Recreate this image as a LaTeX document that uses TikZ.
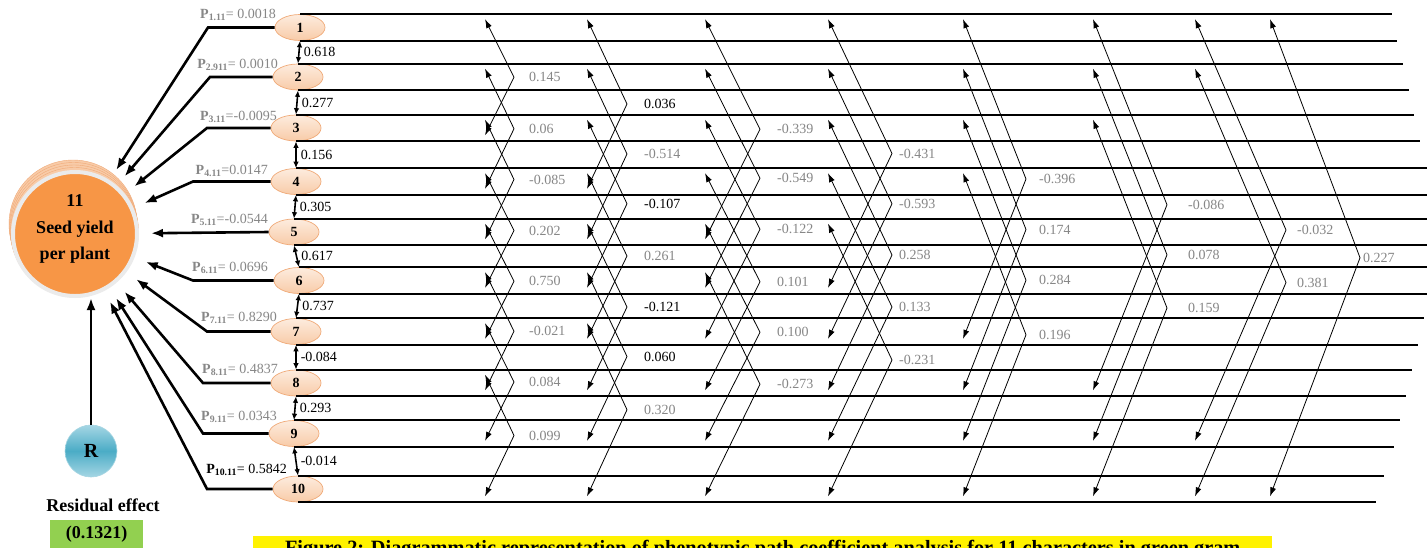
\documentclass[tikz,border=0pt]{standalone}
\usepackage{fontspec}
\setmainfont{Liberation Serif}
\usetikzlibrary{positioning,arrows.meta,calc,shapes.geometric}
\definecolor{yorange}{RGB}{247,150,70}
\definecolor{ypeach}{RGB}{248,203,168}
\definecolor{ppeach}{RGB}{253,236,222}
\definecolor{pedge}{RGB}{240,170,120}
\definecolor{rblue}{RGB}{75,172,198}
\definecolor{rlight}{RGB}{165,214,228}
\definecolor{pgray}{RGB}{135,135,135}
\definecolor{resgreen}{RGB}{146,208,80}

\begin{document}
\begin{tikzpicture}[x=1pt,y=-1pt,>=Latex,
    trait/.style={ellipse,draw=pedge,line width=0.7pt,top color=ppeach,bottom color=ypeach,inner sep=0pt,
      minimum width=50pt,minimum height=26pt,font=\fontsize{14}{16}\selectfont\bfseries},
    band/.style={line width=1.8pt},
    pth/.style={line width=2.6pt,-{Latex[length=12pt,width=9pt]},shorten >=12pt},
    cor/.style={line width=1.6pt,{Latex[length=6.5pt,width=5.5pt]}-{Latex[length=6.5pt,width=5.5pt]}},
    chev/.style={line width=0.8pt,{Latex[length=9pt,width=6pt]}-{Latex[length=9pt,width=6pt]}},
    num/.style={font=\fontsize{14}{16}\selectfont,inner sep=1pt},
    plab/.style={font=\fontsize{14}{16}\selectfont,text=pgray,inner sep=0pt,anchor=east},
    big/.style={font=\fontsize{18}{26.5}\selectfont\bfseries,align=center}]
  \useasboundingbox (0,0) rectangle (1427,547);
  \clip (0,0) rectangle (1427,547);
  \fill[white] (0,0) rectangle (1427,547);

  \node[trait] (t1) at (300,27.5) {1};
  \node[trait] (t2) at (298,77) {2};
  \node[trait] (t3) at (296,128) {3};
  \node[trait] (t4) at (296,181.5) {4};
  \node[trait] (t5) at (294,232) {5};
  \node[trait] (t6) at (299,280.5) {6};
  \node[trait] (t7) at (296,331.5) {7};
  \node[trait] (t8) at (296,383) {8};
  \node[trait] (t9) at (294,433.5) {9};
  \node[trait] (t10) at (298,489) {10};

  \foreach \s in {4,3,2,1}
    \draw[pedge,fill=ypeach] (75-0.5*\s,234-2.5*\s) circle (64);
  \node[circle,fill=yorange,draw=black!8,line width=4pt,minimum size=124pt,inner sep=0pt] (y) at (75,234) {};
  \node[big] (ytxt) at (75,229) {11\\Seed yield\\per plant};

  \node[circle,minimum size=52pt,inner sep=0pt,draw=rblue!50,line width=0.6pt,top color=rlight,bottom color=rlight,
    middle color=rblue,font=\fontsize{20}{20}\selectfont\bfseries] (R) at (91,451) {R};
  \draw[pth,shorten >=0pt] (R) -- (R |- y.south);
  \node[big] (res) at (103,505) {Residual effect};
  \node[big,fill=resgreen,minimum width=93pt,minimum height=28pt,inner sep=0pt] (resv) at (96.5,534) {(0.1321)};

  \foreach \ii/\bx in {1/208,2/210,3/207,4/193,6/193,7/207,8/203,9/203,10/207}{
    \coordinate (q) at (\bx,0);
    \draw[pth] (t\ii.west) -- (t\ii.west -| q) -- (y);
  }
  \draw[pth] (t5.west) -- (y);

  \foreach \ii/\px/\py/\ps/\pv in {1/276/15/1.11/{= 0.0018},2/278/65/2.911/{= 0.0010},3/277/117/3.11/{=-0.0095},
      4/268/171/4.11/{=0.0147},5/268/220/5.11/{=-0.0544},6/268/268/6.11/{= 0.0696},7/277/318/7.11/{= 0.8290},
      8/278/370/8.11/{= 0.4837},9/277/417/9.11/{= 0.0343}}
    \node[plab] (p\ii) at (\px,\py) {\textbf{P\textsubscript{\ps}}\pv};
  \node[plab,text=black] (p10) at (287,470) {\textbf{P\textsubscript{10.11}}= 0.5842};

  \foreach \ii/\jj/\rr in {1/2/0.618,2/3/0.277,3/4/0.156,4/5/0.305,5/6/0.617,6/7/0.737,7/8/-0.084,8/9/0.293,9/10/-0.014}
    \draw[cor] (t\ii.south) -- node[num,right=3pt] (r\ii) {\rr} (t\jj.north);

  \foreach \ii/\ea/\eb in {1/1392/1397,2/1403/1409,3/1414/1420,4/1430/1430,5/1430/1430,6/1430/1430,
      7/1424/1418,8/1412/1406,9/1400/1394,10/1384/1376}{
    \coordinate (ea) at (\ea,0);
    \coordinate (eb) at (\eb,0);
    \draw[band] (t\ii.north) -- (t\ii.north -| ea);
    \draw[band] (t\ii.south) -- (t\ii.south -| eb);
  }

  \foreach \k/\cx/\dx/\gap/\vals in {
      2/485/29/14/{0.145/pgray,0.06/pgray,-0.085/pgray,0.202/pgray,0.750/pgray,-0.021/pgray,0.084/pgray,0.099/pgray},
      3/587/40/16/{0.036/black,-0.514/pgray,-0.107/black,0.261/pgray,-0.121/black,0.060/black,0.320/pgray},
      4/705/55/16/{-0.339/pgray,-0.549/pgray,-0.122/pgray,0.101/pgray,0.100/pgray,-0.273/pgray},
      5/828/64/6/{-0.431/pgray,-0.593/pgray,0.258/pgray,0.133/pgray,-0.231/pgray},
      6/963/63/12/{-0.396/pgray,0.174/pgray,0.284/pgray,0.196/pgray},
      7/1093/74/20/{-0.086/pgray,0.078/pgray,0.159/pgray},
      8/1195/91/10/{-0.032/pgray,0.381/pgray},
      9/1270/90/2/{0.227/pgray}}{
    \coordinate (c\k) at (\cx,0);
    \foreach \rr/\cl [count=\ii] in \vals {
      \pgfmathtruncatemacro\jj{\ii+\k}
      \coordinate (u) at (t\ii.north -| c\k);
      \coordinate (w) at (t\jj.south -| c\k);
      \coordinate (m) at ($([yshift=-5pt]u)!.5!([yshift=6pt]w)+(\dx,0)$);
      \draw[chev] ([yshift=-5pt]u) -- (m) -- ([yshift=6pt]w);
      \node[num,text=\cl,anchor=west] (v\ii-\jj) at ([xshift=\gap pt]m) {\rr};
    }
  }

  \node[fill=yellow,minimum width=1019pt,anchor=north west,inner xsep=0pt,inner ysep=4pt,
    font=\fontsize{20.3}{22}\selectfont\bfseries] (cap) at (253,536)
    {Figure 2: Diagrammatic representation of phenotypic path coefficient analysis for 11 characters in green gram};
\end{tikzpicture}
\end{document}
